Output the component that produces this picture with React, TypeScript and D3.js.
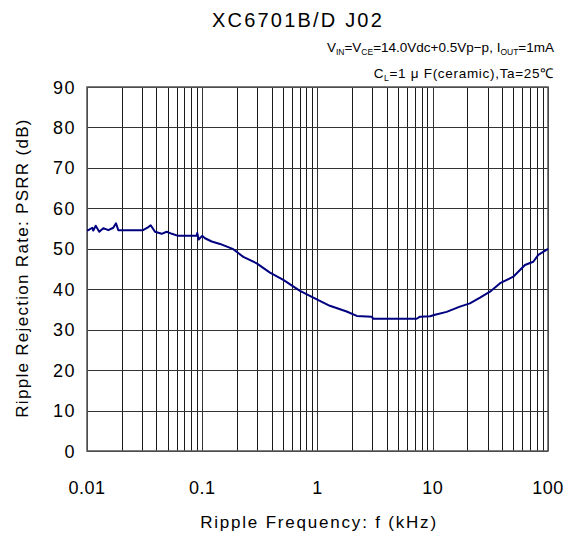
import React, { useEffect, useRef } from "react";
import { select, scaleLog, scaleLinear, line, curveLinear } from "d3";

// Data: frequency (kHz) and PSRR (dB)
const freqKHz = [
  0.01, 0.01026, 0.01112, 0.01134, 0.0119, 0.01278, 0.01385, 0.01531, 0.01691,
  0.01785, 0.01868, 0.0306, 0.0338, 0.0357, 0.0389, 0.0445, 0.0491, 0.0546,
  0.0617, 0.0895, 0.0905, 0.0931, 0.0998, 0.1056, 0.1208, 0.1426, 0.186, 0.227,
  0.297, 0.387, 0.505, 0.705, 0.92, 1.28, 1.79, 2.19, 2.95, 3.05, 7.26, 7.75,
  9.47, 10.47, 13.2, 17.2, 21.0, 25.7, 31.4, 38.4, 50.0, 63.1, 74.5, 82.4, 100,
];
const psrrDb = [
  54.6, 54.6, 55.2, 54.5, 55.7, 54.2, 55.1, 54.6, 55.2, 56.3, 54.6, 54.6, 55.3,
  55.8, 54.2, 53.7, 54.2, 53.7, 53.2, 53.2, 53.9, 52.3, 53.2, 52.6, 51.8, 51.2,
  49.9, 48.0, 46.4, 44.1, 42.3, 39.6, 37.9, 35.9, 34.5, 33.4, 33.2, 32.7, 32.7,
  33.2, 33.3, 33.7, 34.4, 35.7, 36.5, 37.9, 39.4, 41.5, 43.1, 46.0, 46.8, 48.5,
  50.0,
];
const yTicks = [0, 10, 20, 30, 40, 50, 60, 70, 80, 90];
const xTicks = [0.01, 0.1, 1, 10, 100];
const xTickLabels = ["0.01", "0.1", "1", "10", "100"];

const W = 570;
const H = 534;
const margin = { top: 87, right: 22, bottom: 83, left: 87 };

export default function App() {
  const ref = useRef<SVGSVGElement>(null);

  useEffect(() => {
    const svg = select(ref.current);
    svg.selectAll("*").remove();

    const x = scaleLog()
      .domain([0.01, 100])
      .range([margin.left, W - margin.right]);
    const y = scaleLinear()
      .domain([0, 90])
      .range([H - margin.bottom, margin.top]);

    const font = "'Liberation Sans', Arial, sans-serif";

    // minor vertical grid
    const minor: number[] = [];
    for (let d = -2; d < 2; d++) {
      for (let m = 2; m <= 9; m++) minor.push(m * Math.pow(10, d));
    }
    svg
      .append("g")
      .selectAll("line")
      .data(minor)
      .join("line")
      .attr("x1", (d) => Math.round(x(d)) + 0.5)
      .attr("x2", (d) => Math.round(x(d)) + 0.5)
      .attr("y1", y(0))
      .attr("y2", y(90))
      .attr("stroke", "#1a1a1a")
      .attr("stroke-width", 1);

    svg
      .append("g")
      .selectAll("line")
      .data(yTicks)
      .join("line")
      .attr("x1", x(0.01))
      .attr("x2", x(100))
      .attr("y1", (d) => Math.round(y(d)) + 0.5)
      .attr("y2", (d) => Math.round(y(d)) + 0.5)
      .attr("stroke", "#333")
      .attr("stroke-width", 1);

    svg
      .append("g")
      .selectAll("line")
      .data(xTicks)
      .join("line")
      .attr("x1", (d) => Math.round(x(d)) + 0.5)
      .attr("x2", (d) => Math.round(x(d)) + 0.5)
      .attr("y1", y(0))
      .attr("y2", y(90))
      .attr("stroke", "#333")
      .attr("stroke-width", 1);

    // frame
    svg
      .append("rect")
      .attr("x", x(0.01))
      .attr("y", y(90))
      .attr("width", x(100) - x(0.01))
      .attr("height", y(0) - y(90))
      .attr("fill", "none")
      .attr("stroke", "#555")
      .attr("stroke-width", 1.5);

    // curve
    const pts = freqKHz.map((f, i) => [f, psrrDb[i]] as [number, number]);
    svg
      .append("path")
      .attr(
        "d",
        line<[number, number]>()
          .x((d) => x(d[0]))
          .y((d) => y(d[1]))
          .curve(curveLinear)(pts)
      )
      .attr("fill", "none")
      .attr("stroke", "#000080")
      .attr("stroke-width", 2)
      .attr("stroke-linejoin", "round");

    // tick labels
    svg
      .append("g")
      .selectAll("text")
      .data(yTicks)
      .join("text")
      .attr("x", x(0.01) - 11)
      .attr("y", (d) => y(d) + 6.5)
      .attr("text-anchor", "end")
      .attr("font-family", font)
      .attr("font-size", 18)
      .attr("letter-spacing", 1.5)
      .text((d) => d);

    svg
      .append("g")
      .selectAll("text")
      .data(xTicks)
      .join("text")
      .attr("x", (d) => x(d))
      .attr("y", 494)
      .attr("text-anchor", "middle")
      .attr("font-family", font)
      .attr("font-size", 18)
      .attr("letter-spacing", 0.5)
      .text((d, i) => xTickLabels[i]);

    // axis titles
    svg
      .append("text")
      .attr("x", 319)
      .attr("y", 528)
      .attr("text-anchor", "middle")
      .attr("font-family", font)
      .attr("font-size", 17)
      .attr("letter-spacing", 1.8)
      .text("Ripple Frequency: f (kHz)");

    svg
      .append("text")
      .attr("transform", `translate(28, 268) rotate(-90)`)
      .attr("text-anchor", "middle")
      .attr("font-family", font)
      .attr("font-size", 17)
      .attr("letter-spacing", 1.3)
      .text("Ripple Rejection Rate: PSRR (dB)");

    // title
    svg
      .append("text")
      .attr("x", 298)
      .attr("y", 27)
      .attr("text-anchor", "middle")
      .attr("font-family", font)
      .attr("font-size", 20)
      .attr("letter-spacing", 2.2)
      .text("XC6701B/D J02");

    // conditions
    const cond1 = svg
      .append("text")
      .attr("x", 554)
      .attr("y", 52)
      .attr("text-anchor", "end")
      .attr("font-family", font)
      .attr("font-size", 13.5);
    const parts1: [string, boolean][] = [
      ["V", false],
      ["IN", true],
      ["=V", false],
      ["CE", true],
      ["=14.0Vdc+0.5Vp−p, I", false],
      ["OUT", true],
      ["=1mA", false],
    ];
    parts1.forEach(([t, sub]) => {
      cond1
        .append("tspan")
        .attr("font-size", sub ? 8.5 : 13.5)
        .attr("baseline-shift", sub ? "-3" : null)
        .text(t);
    });

    const cond2 = svg
      .append("text")
      .attr("x", 554)
      .attr("y", 78)
      .attr("text-anchor", "end")
      .attr("font-family", font)
      .attr("font-size", 13.5)
      .attr("letter-spacing", 0.7);
    const parts2: [string, boolean][] = [
      ["C", false],
      ["L", true],
      ["=1 μ F(ceramic),Ta=25℃", false],
    ];
    parts2.forEach(([t, sub]) => {
      cond2
        .append("tspan")
        .attr("font-size", sub ? 8.5 : 13.5)
        .attr("baseline-shift", sub ? "-3" : null)
        .text(t);
    });
  }, []);

  return (
    <svg
      ref={ref}
      width={W}
      height={H}
      style={{ position: "absolute", left: 0, top: 0, background: "#fff" }}
    />
  );
}
